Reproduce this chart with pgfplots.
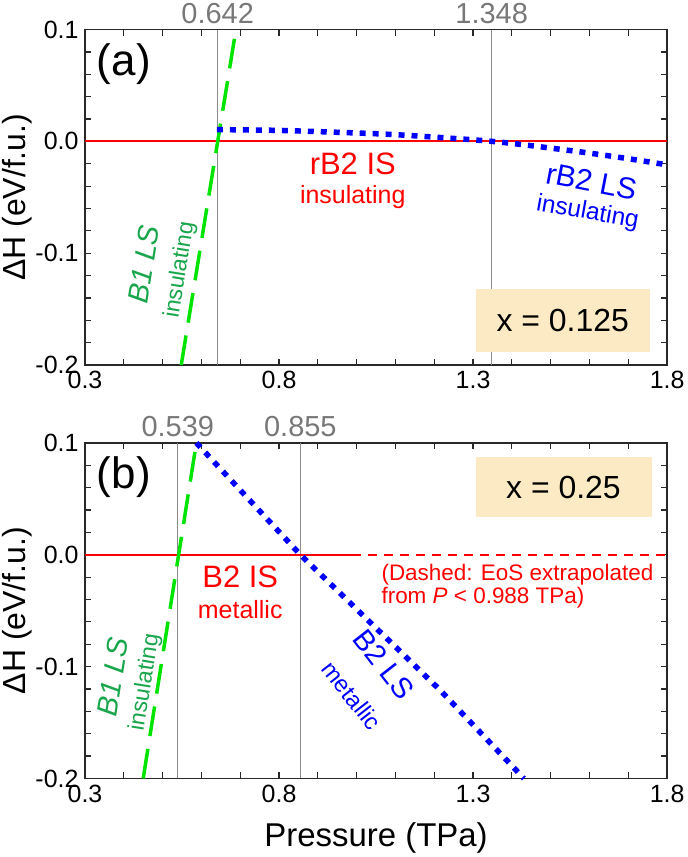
\documentclass[border=0pt]{standalone}
\usepackage{pgfplots}
\pgfplotsset{compat=1.18}
\usepackage{fontspec}
\setmainfont{Liberation Sans}
\definecolor{lgreen}{RGB}{0,228,0}
\definecolor{tgreen}{RGB}{25,165,75}
\definecolor{boxc}{RGB}{251,234,196}
\definecolor{gline}{RGB}{140,140,140}
\definecolor{glab}{RGB}{120,120,120}
\definecolor{axc}{RGB}{40,40,40}
\newcommand\fs[1]{\fontsize{#1}{#1}\selectfont}
\pgfplotsset{panel/.style={
  scale only axis, width=583pt, height=336pt,
  xmin=0.3, xmax=1.8, ymin=-0.2, ymax=0.1,
  xtick={0.3,0.8,1.3,1.8}, xticklabels={0.3,0.8,1.3,1.8},
  ytick={-0.2,-0.1,0,0.1}, yticklabels={-0.2,-0.1,0.0,0.1},
  minor x tick num=4, minor y tick num=4,
  tick align=inside, major tick length=6pt, minor tick length=6pt,
  tick style={line width=1.2pt, color=axc},
  axis line style={line width=1.5pt, axc},
  ticklabel style={font=\fs{25}},
  xticklabel style={yshift=-3pt},
  yticklabel style={xshift=-3pt},
  ylabel={ΔH (eV/f.u.)},
  ylabel style={font=\fs{32}, inner sep=2pt, at={(axis description cs:-0.117,0.5)}, anchor=center},
  clip=false,
}}
\begin{document}
\begin{tikzpicture}
% ---------------- panel (a) ----------------
\begin{axis}[panel]
\addplot[gline, line width=1pt] coordinates {(0.642,-0.2) (0.642,0.1)};
\addplot[gline, line width=1pt] coordinates {(1.348,-0.2) (1.348,0.1)};
\addplot[red, line width=2pt] coordinates {(0.3,0) (1.8,0)};
\addplot[lgreen, line width=3.5pt, dash pattern=on 30pt off 13pt] coordinates {(0.548,-0.2) (0.689,0.1)};
\addplot[blue, line width=5.5pt, dash pattern=on 6pt off 7pt, smooth] coordinates {
 (0.64,0.0105) (0.8,0.0098) (1.0,0.0075) (1.1,0.006) (1.2,0.0038) (1.3,0.0014) (1.348,0)
 (1.4,-0.0018) (1.5,-0.0060) (1.6,-0.0105) (1.7,-0.0155) (1.8,-0.021)};
\node[glab, font=\fs{29}, anchor=base] at (axis cs:0.642,0.1) [yshift=6pt] {0.642};
\node[glab, font=\fs{29}, anchor=base] at (axis cs:1.348,0.1) [yshift=6pt] {1.348};
\node[font=\fs{44}] at (axis cs:0.40,0.069) {(a)};
\node[red, font=\fs{31}] at (axis cs:0.99,-0.020) {rB2 IS};
\node[red, font=\fs{25}] at (axis cs:0.99,-0.050) {insulating};
\node[blue, font=\fs{30}, rotate=-11] at (axis cs:1.605,-0.036) {rB2 LS};
\node[blue, font=\fs{24.5}, rotate=-10] at (axis cs:1.595,-0.064) {insulating};
\node[tgreen, font=\fs{29}\itshape, rotate=81] at (axis cs:0.452,-0.110) {B1 LS};
\node[tgreen, font=\fs{23}, rotate=81] at (axis cs:0.545,-0.115) {insulating};
\fill[boxc] (axis cs:1.307,-0.132) rectangle (axis cs:1.755,-0.188);
\node[font=\fs{32}] at (axis cs:1.531,-0.160) {x = 0.125};
\end{axis}
% ---------------- panel (b) ----------------
\begin{axis}[panel, yshift=-414pt,
  xlabel={Pressure (TPa)},
  xlabel style={font=\fs{33}, at={(axis description cs:0.5,0)}, yshift=-60pt, anchor=center}]
\addplot[gline, line width=1pt] coordinates {(0.539,-0.2) (0.539,0.1)};
\addplot[gline, line width=1pt] coordinates {(0.855,-0.2) (0.855,0.1)};
\addplot[red, line width=2pt] coordinates {(0.3,0) (0.988,0)};
\addplot[red, line width=2pt, dash pattern=on 9pt off 7pt] coordinates {(0.988,0) (1.8,0)};
\addplot[lgreen, line width=3.5pt, dash pattern=on 30pt off 13pt] coordinates {(0.45,-0.2) (0.587,0.1)};
\addplot[blue, line width=5.5pt, dash pattern=on 6pt off 7pt] coordinates {
 (0.587,0.1) (0.855,0) (1.215,-0.121) (1.431,-0.2)};
\node[glab, font=\fs{29}, anchor=base] at (axis cs:0.539,0.1) [yshift=6pt] {0.539};
\node[glab, font=\fs{29}, anchor=base] at (axis cs:0.855,0.1) [yshift=6pt] {0.855};
\node[font=\fs{44}] at (axis cs:0.40,0.069) {(b)};
\node[red, font=\fs{31}] at (axis cs:0.70,-0.020) {B2 IS};
\node[red, font=\fs{25}] at (axis cs:0.70,-0.049) {metallic};
\node[red, font=\fs{22.5}, anchor=west, align=left] at (axis cs:1.055,-0.028) {(Dashed: EoS extrapolated\\from \textit{P} < 0.988 TPa)};
\node[blue, font=\fs{29}, rotate=-52] at (axis cs:1.070,-0.098) {B2 LS};
\node[blue, font=\fs{23.5}, rotate=-52] at (axis cs:0.988,-0.126) {metallic};
\node[tgreen, font=\fs{29}\itshape, rotate=81] at (axis cs:0.372,-0.109) {B1 LS};
\node[tgreen, font=\fs{23}, rotate=81] at (axis cs:0.455,-0.114) {insulating};
\fill[boxc] (axis cs:1.307,0.0873) rectangle (axis cs:1.760,0.0337);
\node[font=\fs{32}] at (axis cs:1.533,0.060) {x = 0.25};
\end{axis}
\end{tikzpicture}
\end{document}
